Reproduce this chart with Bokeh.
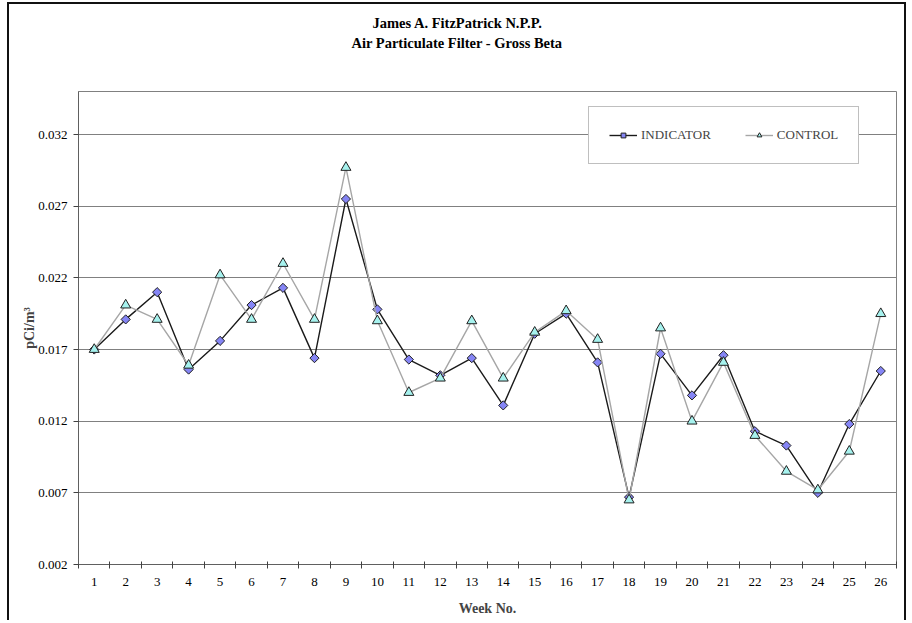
import math
from bokeh.plotting import figure
from bokeh.models import FixedTicker, PrintfTickFormatter, Legend, LegendItem, Title
from bokeh.embed import file_html
from bokeh.resources import INLINE

weeks = list(range(1, 27))
week_labels = [str(w) for w in weeks]
indicator = [0.0170, 0.0191, 0.0210, 0.0156, 0.0176, 0.0201, 0.0213, 0.0164, 0.0275, 0.0198,
             0.0163, 0.0152, 0.0164, 0.0131, 0.0181, 0.0195, 0.0161, 0.0067, 0.0167, 0.0138,
             0.0166, 0.0113, 0.0103, 0.0070, 0.0118, 0.0155]
control = [0.0170, 0.0201, 0.0191, 0.0159, 0.0222, 0.0191, 0.0230, 0.0191, 0.0297, 0.0190,
           0.0140, 0.0150, 0.0190, 0.0150, 0.0182, 0.0197, 0.0177, 0.0065, 0.0185, 0.0120,
           0.0161, 0.0110, 0.0085, 0.0072, 0.0099, 0.0195]
y_ticks = [0.002, 0.007, 0.012, 0.017, 0.022, 0.027, 0.032]
title_lines = ["James A. FitzPatrick N.P.P.", "Air Particulate Filter - Gross Beta"]
series_names = ["INDICATOR", "CONTROL"]

FONT = "Liberation Serif"

p = figure(width=912, height=620, x_range=(0.5, 26.5), y_range=(0.002, 0.035),
           output_backend="svg", toolbar_location=None,
           min_border_left=78, min_border_right=16, min_border_top=91, min_border_bottom=56)
p.border_fill_color = None
p.background_fill_color = "white"
p.outline_line_color = "#808080"
p.styles = {
    "background-image": "linear-gradient(#111,#111), linear-gradient(#111,#111), linear-gradient(#111,#111)",
    "background-size": "2px 640px, 898px 2px, 2px 640px",
    "background-position": "7px 2px, 7px 2px, 904px 2px",
    "background-repeat": "no-repeat",
}

# titles: p.title is the outer (top) line; a blank spacer sits next to the frame
p.title.text = title_lines[0]
p.title.align = "left"
p.title.offset = 294
p.title.standoff = 3
p.title.text_font = FONT
p.title.text_font_style = "bold"
p.title.text_font_size = "14.5px"
p.title.text_color = "black"
p.add_layout(Title(text=" ", align="left", standoff=23,
                   text_font=FONT, text_font_size="14.5px"), "above")
p.add_layout(Title(text=title_lines[1], align="left", offset=273, standoff=0,
                   text_font=FONT, text_font_style="bold", text_font_size="14.5px",
                   text_color="black"), "above")

# x axis: labels at week centres, tick marks between weeks
xt = FixedTicker(ticks=weeks, minor_ticks=[w + 0.5 for w in range(0, 27)])
p.xaxis.ticker = xt
p.xaxis.major_label_overrides = {w: s for w, s in zip(weeks, week_labels)}
p.xaxis.major_tick_line_color = None
p.xaxis.major_tick_in = 0
p.xaxis.major_tick_out = 0
p.xaxis.minor_tick_line_color = "#404040"
p.xaxis.minor_tick_in = 3
p.xaxis.minor_tick_out = 4
p.xaxis.major_label_standoff = 9
p.xaxis.axis_line_color = "#606060"
p.xaxis.axis_label = "Week No."
p.xaxis.axis_label_standoff = 12
p.xaxis.axis_label_text_font = FONT
p.xaxis.axis_label_text_font_style = "bold"
p.xaxis.axis_label_text_font_size = "14px"
p.xaxis.major_label_text_font = FONT
p.xaxis.major_label_text_font_size = "13px"
p.xaxis.major_label_text_color = "black"

p.yaxis.ticker = FixedTicker(ticks=y_ticks)
p.yaxis.formatter = PrintfTickFormatter(format="%.3f")
p.yaxis.major_tick_in = 0
p.yaxis.major_tick_out = 5
p.yaxis.major_tick_line_color = "#404040"
p.yaxis.minor_tick_line_color = None
p.yaxis.axis_line_color = "#606060"
p.yaxis.major_label_standoff = 6
p.yaxis.major_label_text_font = FONT
p.yaxis.major_label_text_font_size = "13px"
p.yaxis.major_label_text_color = "black"
p.yaxis.axis_label = "pCi/m³"
p.yaxis.axis_label_standoff = -2
p.yaxis.axis_label_text_font = FONT
p.yaxis.axis_label_text_font_style = "bold"
p.yaxis.axis_label_text_font_size = "14px"

p.xgrid.grid_line_color = None
p.ygrid.ticker = FixedTicker(ticks=y_ticks)
p.ygrid.grid_line_color = "#808080"
p.ygrid.grid_line_width = 1

l1 = p.line(weeks, indicator, line_color="#1a1a1a", line_width=1.4)
s1 = p.scatter(weeks, indicator, marker="square", angle=math.pi / 4, size=6.5,
               fill_color="#8585f5", line_color="#202020", line_width=1)
l2 = p.line(weeks, control, line_color="#a6a6a6", line_width=1.4)
s2 = p.scatter(weeks, control, marker="triangle", size=10, fill_color="#a6f2ee",
               line_color="#202020", line_width=1)

legend = Legend(items=[LegendItem(label=series_names[0], renderers=[l1, s1]),
                       LegendItem(label=series_names[1], renderers=[l2, s2])],
                orientation="horizontal", location=(510, 400),
                border_line_color="#808080", border_line_width=1,
                background_fill_color="white", background_fill_alpha=1.0,
                label_text_font=FONT, label_text_font_size="13px",
                glyph_width=28, glyph_height=12, label_height=12, label_standoff=4,
                spacing=34, padding=20, margin=0)
p.add_layout(legend)

open("out.html", "w").write(file_html(p, INLINE))
